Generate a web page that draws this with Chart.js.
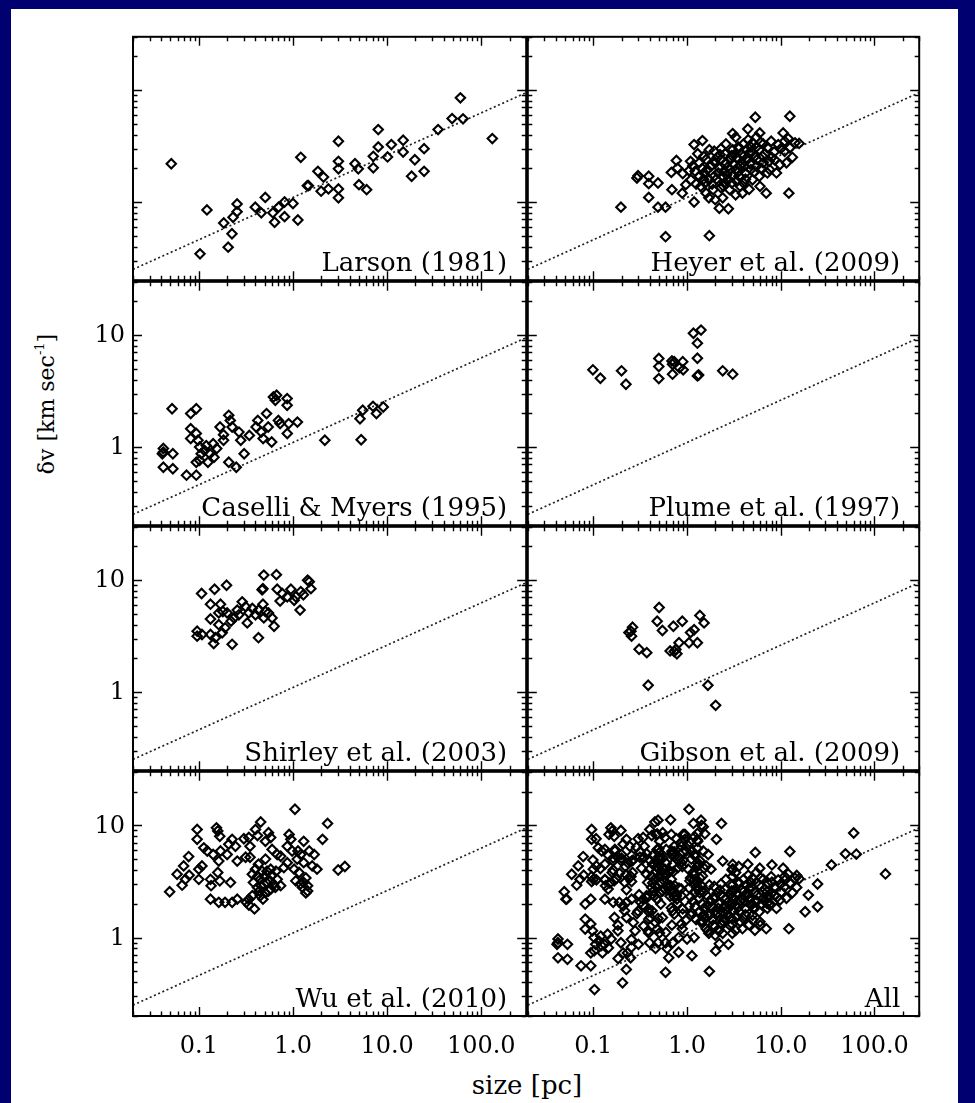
<!DOCTYPE html>
<html>
<head>
<meta charset="utf-8">
<script src="https://cdn.jsdelivr.net/npm/chart.js@4.4.1/dist/chart.umd.min.js"></script>
<style>
  html, body { margin: 0; padding: 0; background: #000070; }
  #page { position: relative; width: 975px; height: 1103px; background: #000070; overflow: hidden; }
  #white { position: absolute; left: 11px; top: 9px; width: 947px; height: 1094px; background: #ffffff; }
  canvas { position: absolute; }
  .title { position: absolute; font-family: "DejaVu Serif", serif; color: #000; white-space: nowrap; }
  #xtitle { left: 427px; width: 200px; text-align: center; top: 1070px; font-size: 26px; line-height: 30px; }
  #ytitle { left: 46px; top: 404px; font-size: 22px; transform: translate(-50%, -50%) rotate(-90deg); }
  #ytitle .sup { font-size: 13px; position: relative; top: -10px; }
</style>
</head>
<body>
<div id="page">
  <div id="white"></div>
  <div class="title" id="xtitle">size [pc]</div>
  <div class="title" id="ytitle">δv [km sec<span class="sup">-1</span>]</div>
</div>
<script>
// ---------------- data (size [pc], δv [km/s]) ----------------
const larson = [[0.051,2.2],[0.122,0.85],[0.103,0.344],[0.184,0.65],[0.205,0.395],[0.225,0.52],[0.231,0.73],[0.255,0.82],[0.255,0.96],[0.398,0.90],[0.461,0.80],[0.508,1.10],[0.612,0.80],[0.638,0.66],[0.703,0.90],[0.814,1.0],[0.814,0.74],[1.0,0.97],[1.127,0.69],[1.21,2.51],[1.46,1.40],[1.42,1.40],[1.84,1.88],[1.99,1.25],[2.11,1.67],[2.38,1.31],[3.04,3.49],[3.04,2.31],[3.04,1.98],[3.04,1.31],[3.04,1.09],[4.56,2.2],[4.94,1.98],[5.02,1.43],[6.06,1.29],[7.13,2.56],[7.13,2.02],[8.05,4.44],[8.05,3.11],[10.1,2.53],[11.1,3.26],[14.8,3.57],[14.8,2.80],[18.2,1.70],[19.7,2.39],[24.7,3.0],[24.7,1.88],[34.8,4.44],[49,5.57],[60,8.54],[64,5.54],[131,3.69]];

const heyer = [[0.197,0.90],[0.292,1.64],[0.30,1.72],[0.39,1.70],[0.39,1.46],[0.39,1.10],[0.49,1.48],[0.49,0.90],[0.59,0.90],[0.59,0.49],[0.68,1.84],[0.69,1.29],[0.77,2.35],[0.79,2.01],[0.89,1.20],[0.97,1.43],[1.09,2.31],[1.19,3.26],[1.19,1.0],[1.22,1.88],[1.46,3.54],[1.51,2.56],[1.56,1.48],[1.73,0.50],[1.71,1.09],[1.95,1.70],[2.0,2.24],[2.21,0.88],[2.25,2.65],[2.4,1.09],[2.45,1.38],[2.76,0.87],[2.9,1.95],[3.07,4.09],[3.2,2.65],[3.3,1.16],[3.4,1.53],[3.62,3.05],[3.9,2.24],[4.2,1.82],[4.45,4.5],[4.6,2.75],[5.0,3.38],[5.35,5.73],[5.5,2.09],[5.9,1.70],[5.97,4.15],[6.4,2.56],[7.0,1.2],[7.2,3.05],[7.6,1.95],[7.9,3.49],[8.6,2.39],[9.4,3.26],[9.8,2.16],[10.6,4.15],[11.0,2.84],[11.5,2.24],[12.0,3.69],[12.2,1.2],[12.5,5.85],[12.5,3.05],[13.3,2.51],[14.2,3.38],[15.7,3.34],[1.35,1.70],[1.40,1.38],[1.65,1.95],[1.73,1.58],[1.9,1.29],[2.15,1.82],[2.4,1.70],[2.6,2.24],[2.75,1.58],[2.85,1.29],[3.07,2.94],[3.3,1.95],[3.6,1.70],[3.7,1.38],[4.0,2.56],[4.3,2.94],[4.8,1.95],[5.0,1.58],[5.3,2.56],[5.9,2.94],[6.5,2.24],[7.2,1.82],[1.35,2.24],[1.52,1.82],[1.73,2.94],[1.95,2.85],[2.21,2.0],[2.6,3.3],[3.0,1.48],[3.5,2.4],[4.5,3.6],[4.0,1.48],[5.5,3.8],[6.5,3.3],[8.5,2.8],[9.0,1.82],[10.0,3.0],[1.1,1.58],[1.6,1.20],[2.0,1.05],[2.5,1.48],[3.9,1.2],[4.6,1.3],[6.0,1.38],[1.3,2.7],[0.9,1.8],[8.0,2.5],[11.0,3.5],[2.3,3.0],[3.3,3.8],[1.45,2.0],[1.6,2.4],[1.8,2.1],[1.85,1.45],[2.05,1.6],[2.1,2.5],[2.3,1.35],[2.5,1.9],[2.55,2.7],[2.7,2.05],[2.9,2.4],[3.1,1.75],[3.15,2.2],[3.4,2.5],[3.5,1.85],[3.7,2.1],[3.8,2.7],[4.1,2.1],[4.2,1.6],[4.4,2.4],[4.7,2.2],[4.9,2.8],[5.2,1.85],[5.6,2.4],[6.2,2.0],[6.8,2.7],[7.5,2.3],[1.25,1.45],[1.5,1.6],[1.95,2.3],[2.3,2.4],[2.65,1.75],[3.0,2.6],[3.5,3.1],[4.0,3.3],[4.8,3.1],[5.5,3.1],[6.1,3.4],[1.05,1.9],[1.15,2.1]];

const caselli = [[0.052,2.20],[0.042,0.97],[0.042,0.90],[0.041,0.87],[0.053,0.87],[0.042,0.66],[0.053,0.64],[0.074,0.56],[0.094,0.56],[0.082,1.99],[0.094,2.20],[0.082,1.46],[0.082,1.19],[0.094,1.32],[0.098,1.15],[0.102,1.0],[0.106,0.87],[0.094,0.73],[0.102,0.76],[0.115,0.93],[0.12,1.03],[0.131,0.87],[0.142,1.07],[0.145,0.81],[0.155,0.97],[0.125,0.73],[0.168,1.51],[0.183,1.15],[0.183,1.29],[0.208,1.92],[0.216,1.73],[0.226,1.51],[0.208,0.73],[0.25,0.66],[0.267,1.36],[0.279,1.15],[0.303,0.87],[0.344,1.27],[0.406,1.51],[0.423,1.73],[0.461,1.36],[0.482,1.19],[0.524,1.99],[0.546,1.51],[0.594,1.11],[0.62,2.80],[0.67,2.90],[0.65,2.62],[0.70,1.73],[0.73,1.62],[0.867,2.71],[0.867,2.36],[0.90,1.62],[0.87,1.32],[1.115,1.67],[2.18,1.15],[5.15,1.79],[5.5,2.13],[5.3,1.16],[7.08,2.31],[7.7,1.99],[9.1,2.28]];

const plume = [[0.099,4.9],[0.119,4.12],[0.20,4.8],[0.223,3.64],[0.50,6.18],[0.50,5.24],[0.50,4.09],[0.69,5.89],[0.70,5.5],[0.73,5.8],[0.70,4.48],[0.83,5.1],[0.90,5.8],[0.91,4.9],[1.17,10.4],[1.41,11.1],[1.29,8.48],[1.29,6.22],[1.29,4.32],[1.33,4.4],[2.4,4.8],[3.07,4.48]];

const shirley = [[0.107,7.6],[0.147,8.3],[0.197,9.0],[0.49,11.1],[0.667,11.2],[0.48,8.4],[0.47,8.2],[0.68,8.3],[0.95,8.3],[1.43,10.0],[1.49,9.7],[1.55,8.4],[1.21,7.9],[0.77,7.6],[0.73,6.5],[0.87,7.1],[1.07,7.1],[1.03,6.6],[1.29,7.4],[1.19,5.4],[0.133,6.1],[0.17,6.1],[0.133,4.5],[0.163,5.1],[0.18,5.25],[0.2,5.1],[0.096,3.5],[0.096,3.16],[0.108,3.27],[0.133,3.27],[0.15,3.06],[0.144,2.71],[0.177,3.38],[0.19,3.75],[0.163,4.0],[0.226,2.67],[0.289,6.4],[0.256,5.4],[0.266,4.9],[0.314,5.8],[0.327,4.15],[0.34,5.1],[0.37,5.6],[0.40,4.9],[0.43,5.4],[0.43,3.06],[0.48,6.1],[0.51,5.25],[0.49,4.6],[0.55,5.1],[0.63,3.87],[0.60,4.6],[0.236,4.6],[0.22,4.3]];

const gibson = [[0.262,3.8],[0.252,3.5],[0.256,3.16],[0.24,3.4],[0.308,2.41],[0.372,2.25],[0.385,1.15],[0.504,5.7],[0.48,4.29],[0.546,3.55],[0.715,3.87],[0.89,4.29],[0.66,2.33],[0.73,2.3],[0.78,2.2],[0.76,2.4],[0.82,2.76],[1.05,2.76],[1.09,3.4],[1.19,3.6],[1.29,2.76],[1.37,4.84],[1.52,4.15],[1.67,1.15],[2.02,0.76]];

const wu = [[0.049,2.56],[0.0588,3.67],[0.0665,2.93],[0.069,4.35],[0.078,5.27],[0.079,3.6],[0.072,3.3],[0.096,9.2],[0.096,7.5],[0.1,4.07],[0.1,3.3],[0.108,4.35],[0.113,6.3],[0.123,5.9],[0.133,3.3],[0.135,2.9],[0.133,2.2],[0.154,9.5],[0.159,8.9],[0.167,8.0],[0.142,5.5],[0.163,4.8],[0.17,5.9],[0.159,3.8],[0.163,2.06],[0.167,3.2],[0.19,2.06],[0.2,5.5],[0.208,6.8],[0.217,3.1],[0.226,7.5],[0.226,2.06],[0.245,6.5],[0.256,4.8],[0.256,2.2],[0.301,7.6],[0.314,5.2],[0.32,2.06],[0.34,7.8],[0.35,6.5],[0.35,5.2],[0.37,3.67],[0.38,3.1],[0.40,9.2],[0.42,8.1],[0.454,10.7],[0.39,1.8],[0.34,1.95],[0.37,2.36],[0.40,4.07],[0.43,4.5],[0.42,2.8],[0.45,3.3],[0.47,3.9],[0.51,5.0],[0.51,7.2],[0.55,8.6],[0.58,7.8],[0.60,6.1],[0.58,4.07],[0.57,3.2],[0.58,2.7],[0.51,2.5],[0.65,2.8],[0.68,5.5],[0.74,5.3],[0.8,4.2],[0.91,8.3],[0.95,7.5],[0.87,6.5],[0.87,4.65],[0.98,5.9],[1.05,13.9],[1.03,4.07],[1.07,3.2],[1.11,5.0],[1.16,3.8],[1.21,5.5],[1.3,7.2],[1.3,4.65],[1.37,3.4],[1.43,2.9],[1.49,5.9],[1.6,4.35],[1.68,5.5],[1.8,4.07],[1.26,2.8],[1.3,3.1],[1.2,3.0],[1.37,2.5],[1.43,2.6],[2.06,7.5],[2.33,10.4],[3.02,4.0],[3.56,4.3],[1.13,5.9],[0.68,3.3],[0.74,2.9],[0.52,3.1],[0.45,2.36],[0.34,2.2],[0.42,3.5],[0.46,2.9],[0.5,3.5],[0.55,2.6],[0.6,3.6],[0.62,3.0],[0.48,2.2],[0.44,2.6],[0.53,3.9],[0.66,3.9]];

// Larson relation drawn as the dotted reference line (end points)
const lineSize = [0.02, 300];
const lineDv = [0.25, 9.5];

// axis ticks
const xMajorTicks = [0.1, 1, 10, 100];
const xTickLabels = ['0.1', '1.0', '10.0', '100.0'];
const yMajorTicks = [1, 10];
const yTickLabels = ['1', '10'];
const xRange = [0.02, 300];
const yRange = [0.2, 30];

const panelLabels = ['Larson (1981)', 'Heyer et al. (2009)', 'Caselli & Myers (1995)', 'Plume et al. (1997)',
                     'Shirley et al. (2003)', 'Gibson et al. (2009)', 'Wu et al. (2010)', 'All'];
const panelData = [larson, heyer, caselli, plume, shirley, gibson, wu,
                   [].concat(larson, heyer, caselli, plume, shirley, gibson, wu)];

// ---------------- layout ----------------
const colLeft = [133, 527];
const colWidth = [394, 393];
const rowTop = [36, 281, 526, 771];
const rowHeight = 245;

function logTicks(lo, hi) {
  const out = [];
  for (let e = -3; e <= 3; e++) {
    for (let m = 1; m <= 9; m++) {
      const v = m * Math.pow(10, e);
      if (v >= lo * 0.9999 && v <= hi * 1.0001) out.push({ v, major: m === 1 });
    }
  }
  return out;
}
const xTicksAll = logTicks(xRange[0], xRange[1]);
const yTicksAll = logTicks(yRange[0], yRange[1]);

const axesPlugin = {
  id: 'idlAxes',
  afterDraw(chart, args, opts) {
    const { ctx, chartArea: a, scales: { x, y } } = chart;
    ctx.save();
    ctx.strokeStyle = '#000';
    ctx.lineWidth = 1.4;
    ctx.beginPath();
    for (const t of xTicksAll) {
      const px = Math.round(x.getPixelForValue(t.v)) + 0.5;
      const len = t.major ? 9 : 4.5;
      ctx.moveTo(px, a.bottom); ctx.lineTo(px, a.bottom - len);
      ctx.moveTo(px, a.top); ctx.lineTo(px, a.top + len);
    }
    for (const t of yTicksAll) {
      const py = Math.round(y.getPixelForValue(t.v)) + 0.5;
      const len = t.major ? 9 : 4.5;
      ctx.moveTo(a.left, py); ctx.lineTo(a.left + len, py);
      ctx.moveTo(a.right, py); ctx.lineTo(a.right - len, py);
    }
    ctx.stroke();
    ctx.lineWidth = 2;
    ctx.strokeRect(a.left, a.top, a.right - a.left, a.bottom - a.top);

    ctx.fillStyle = '#000';
    ctx.font = '26px "DejaVu Serif"';
    ctx.textAlign = 'right';
    ctx.textBaseline = 'alphabetic';
    ctx.fillText(opts.label, a.right - 19, a.bottom - 9);

    ctx.font = '24px "DejaVu Serif"';
    if (opts.yLabels) {
      ctx.textAlign = 'right';
      ctx.textBaseline = 'middle';
      yMajorTicks.forEach((v, i) => ctx.fillText(yTickLabels[i], a.left - 8, y.getPixelForValue(v) + 1));
    }
    if (opts.xLabels) {
      ctx.textAlign = 'center';
      ctx.textBaseline = 'top';
      xMajorTicks.forEach((v, i) => ctx.fillText(xTickLabels[i], x.getPixelForValue(v), a.bottom + 19));
    }
    ctx.restore();
  }
};

const page = document.getElementById('page');
panelLabels.forEach((label, i) => {
  const col = i % 2, row = Math.floor(i / 2);
  const yLabels = col === 0 && row > 0;
  const xLabels = row === 3;
  const pad = { left: col === 0 ? 70 : 6, right: 6, top: 6, bottom: xLabels ? 55 : 6 };
  const L = colLeft[col], W = colWidth[col], T = rowTop[row], H = rowHeight;
  const cv = document.createElement('canvas');
  cv.width = W + pad.left + pad.right;
  cv.height = H + pad.top + pad.bottom;
  cv.style.left = (L - pad.left) + 'px';
  cv.style.top = (T - pad.top) + 'px';
  cv.style.width = cv.width + 'px';
  cv.style.height = cv.height + 'px';
  page.appendChild(cv);

  new Chart(cv, {
    type: 'scatter',
    data: {
      datasets: [
        {
          data: panelData[i].map(p => ({ x: p[0], y: p[1] })),
          pointStyle: 'rectRot',
          pointRadius: 4.7,
          borderColor: '#000',
          borderWidth: 2.1,
          backgroundColor: 'rgba(0,0,0,0)'
        },
        {
          data: lineSize.map((s, k) => ({ x: s, y: lineDv[k] })),
          showLine: true,
          pointRadius: 0,
          borderColor: '#222',
          borderWidth: 1.7,
          borderDash: [2, 2.6],
          fill: false
        }
      ]
    },
    options: {
      responsive: false,
      animation: false,
      events: [],
      layout: { padding: pad },
      plugins: { legend: { display: false }, tooltip: { enabled: false }, idlAxes: { label, xLabels, yLabels } },
      scales: {
        x: { type: 'logarithmic', min: xRange[0], max: xRange[1], display: false },
        y: { type: 'logarithmic', min: yRange[0], max: yRange[1], display: false }
      }
    },
    plugins: [axesPlugin]
  });
});
</script>
</body>
</html>
